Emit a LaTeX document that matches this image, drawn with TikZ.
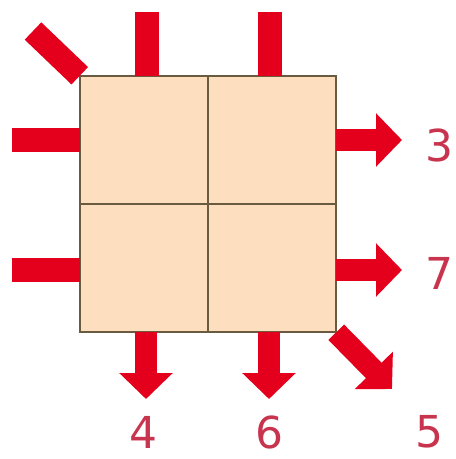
\documentclass[tikz,border=0pt]{standalone}
\usepackage{fontspec}
\setsansfont{DejaVu Sans}
\usetikzlibrary{arrows.meta,positioning}
\definecolor{cCell}{HTML}{FDDEBE}
\definecolor{cEdge}{HTML}{6A5A40}
\definecolor{cFlow}{HTML}{E4001C}
\definecolor{cNum} {HTML}{C8344E}
\tikzset{
  cell/.style ={draw=cEdge,fill=cCell,line width=1.8pt,minimum size=128.5pt,
                inner sep=0pt,outer sep=0pt},
  stub/.style ={draw=cFlow,line width=24pt},
  flow/.style ={draw=cFlow,line width=22pt,-{Triangle[width=52pt,length=26pt]}},
  num/.style  ={text=cNum,font=\sffamily\fontsize{44}{44}\selectfont,inner sep=0pt},
}

\begin{document}
\begin{tikzpicture}[x=1pt,y=-1pt]
\useasboundingbox (0,0) rectangle (456,459);

% ---------------- cells ---------------------------------------------------
\foreach \r/\y in {1/140,2/268}
  \foreach \c/\x in {1/144,2/272}
    {\node[cell] (c\r\c) at (\x,\y) {};}

% ---------------- incoming stubs -------------------------------------------
\coordinate (inT1) at (147,12);
\coordinate (inT2) at (270,12);
\coordinate (inL1) at (12,140);
\coordinate (inL2) at (12,270);
\coordinate (inD)  at (33,31);
\draw[stub] (inT1) -- (inT1 |- c11.north);
\draw[stub] (inT2) -- (inT2 |- c12.north);
\draw[stub] (inL1) -- (inL1 -| c11.west);
\draw[stub] (inL2) -- (inL2 -| c21.west);
\draw[stub] (inD) -- (c11.north west);

% ---------------- outgoing arrows ------------------------------------------
\coordinate (out3) at (402,140);
\coordinate (out7) at (402,270);
\coordinate (out4) at (146,399);
\coordinate (out6) at (269,399);
\coordinate (out5) at (392,389);
\draw[flow] (out3 -| c12.east) -- (out3);
\draw[flow] (out7 -| c22.east) -- (out7);
\draw[flow] (out4 |- c21.south) -- (out4);
\draw[flow] (out6 |- c22.south) -- (out6);
\draw[flow] (c22.south east) -- (out5);

% ---------------- labels ---------------------------------------------------
\node[num] (l3) at (439,145) {3};
\node[num] (l7) at (439,273) {7};
\node[num] (l4) at (143,432) {4};
\node[num] (l6) at (269,432) {6};
\node[num] (l5) at (429,432) {5};
\end{tikzpicture}
\end{document}
